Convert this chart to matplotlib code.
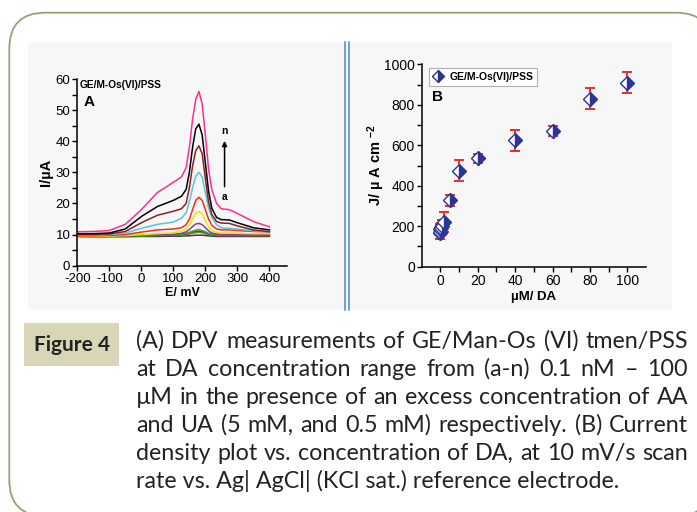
import matplotlib
matplotlib.use('Agg')
import matplotlib.pyplot as plt
from matplotlib.patches import FancyBboxPatch, Rectangle

plt.rcParams['font.family'] = ['Liberation Sans', 'DejaVu Sans']
plt.rcParams['mathtext.fontset'] = 'custom'
plt.rcParams['mathtext.rm'] = 'Liberation Sans'
plt.rcParams['mathtext.bf'] = 'Liberation Sans:bold'
plt.rcParams['mathtext.default'] = 'bf'
plt.rcParams['axes.unicode_minus'] = False

W, H = 697, 512

# ---- panel A: DPV curves (a..n), potential in mV, current in uA
E_mV = [-200, -150, -100, -50, 0, 50, 100, 125, 140, 150, 160, 170, 180,
        190, 200, 210, 220, 235, 250, 275, 300, 350, 400]
curve_a = [9.3, 9.3, 9.3, 9.3, 9.4, 9.4, 9.5, 9.5, 9.6, 9.6, 9.7, 9.8, 9.8, 9.8, 9.7, 9.6, 9.5, 9.4, 9.4, 9.4, 9.4, 9.4, 9.4]
curve_b = [9.4, 9.4, 9.4, 9.5, 9.6, 9.7, 9.8, 9.9, 10.0, 10.2, 10.4, 10.6, 10.7, 10.6, 10.3, 10.0, 9.8, 9.7, 9.7, 9.7, 9.7, 9.7, 9.7]
curve_c = [9.4, 9.4, 9.5, 9.5, 9.6, 9.7, 9.8, 10.0, 10.2, 10.5, 10.8, 11.0, 11.1, 11.0, 10.6, 10.2, 9.9, 9.8, 9.8, 9.8, 9.8, 9.8, 9.8]
curve_d = [9.5, 9.5, 9.5, 9.6, 9.7, 9.8, 9.9, 10.1, 10.4, 10.7, 11.1, 11.4, 11.6, 11.3, 10.9, 10.4, 10.1, 9.9, 9.9, 9.9, 9.9, 9.9, 9.9]
curve_e = [9.5, 9.5, 9.6, 9.7, 9.8, 9.9, 10.1, 10.4, 10.9, 11.6, 12.6, 13.4, 13.6, 13.2, 12.2, 11.2, 10.5, 10.2, 10.1, 10.1, 10.0, 10.0, 10.0]
curve_f = [9.3, 9.4, 9.5, 9.7, 10.0, 10.3, 10.6, 11.0, 11.8, 13.0, 15.0, 16.8, 17.4, 16.6, 14.5, 12.5, 11.3, 10.7, 10.5, 10.5, 10.4, 10.3, 10.3]
curve_g = [9.6, 9.6, 9.7, 10.0, 10.8, 11.5, 11.8, 12.2, 13.2, 15.0, 18.0, 21.0, 22.0, 21.0, 18.0, 15.0, 13.0, 11.8, 11.5, 11.5, 11.3, 11.0, 10.9]
curve_h = [9.8, 9.8, 10.0, 10.5, 12.0, 13.3, 14.0, 15.2, 17.0, 20.5, 25.0, 28.8, 30.0, 28.5, 23.5, 18.5, 15.5, 13.2, 12.2, 12.0, 11.8, 11.2, 10.9]
curve_i = [10.0, 10.0, 10.2, 11.0, 13.8, 16.2, 17.5, 18.3, 20.0, 25.0, 32.0, 37.0, 38.5, 36.0, 28.0, 20.5, 16.5, 14.2, 13.7, 13.6, 12.8, 11.5, 10.9]
curve_j = [10.3, 10.3, 10.5, 11.8, 15.8, 19.0, 21.0, 22.3, 24.5, 30.0, 38.0, 44.0, 45.5, 42.0, 33.0, 24.0, 18.5, 15.5, 14.8, 14.7, 13.8, 12.2, 11.5]
curve_k = [10.9, 11.0, 11.3, 13.3, 18.0, 23.5, 26.8, 28.5, 31.5, 38.0, 47.0, 53.5, 56.0, 52.0, 42.0, 31.0, 24.5, 20.0, 18.3, 18.0, 16.8, 14.2, 12.5]
curves = [curve_a, curve_b, curve_c, curve_d, curve_e, curve_f, curve_g,
          curve_h, curve_i, curve_j, curve_k]
curve_colors = ['#3a3a3a', '#a0783c', '#1f6f2a', '#3aa33a', '#8b3a9e', '#f2e200',
                '#ff2a1a', '#52c8dc', '#8e1f1f', '#000000', '#ff2d8f']

# ---- panel B: current density vs DA concentration
conc_uM = [0.0001, 0.001, 0.01, 0.1, 0.5, 1, 2, 5, 10, 20, 40, 60, 80, 100]
J_vals = [165, 172, 185, 195, 190, 200, 220, 328, 475, 535, 625, 672, 830, 910]
J_err = [30, 35, 25, 20, 25, 30, 50, 28, 52, 22, 52, 25, 53, 50]

caption_lines = [
    '(A) DPV measurements of GE/Man-Os (VI) tmen/PSS',
    'at DA concentration range from (a-n) 0.1 nM \u2013 100',
    '\u00b5M in the presence of an excess concentration of AA',
    'and UA (5 mM, and 0.5 mM) respectively. (B) Current',
    'density plot vs. concentration of DA, at 10 mV/s scan',
    'rate vs. Ag| AgCl| (KCl sat.) reference electrode.',
]

fig = plt.figure(figsize=(W / 100, H / 100), dpi=100)
fig.patch.set_facecolor('white')

# overlay in pixel units for frame, panel and caption
bg = fig.add_axes([0, 0, 1, 1])
bg.set_xlim(0, W)
bg.set_ylim(H, 0)
bg.axis('off')
bg.add_patch(FancyBboxPatch((9.3 + 36, 12.7 + 36), 712 - 9.3 - 72, 516 - 12.7 - 72,
                            boxstyle='round,pad=36', fc='white', ec='#a39b73', lw=1.3))
bg.add_patch(Rectangle((28, 42), 644, 268, fc='#f7f7f7', ec='none'))
for xl in [344.5, 348.5]:
    bg.plot([xl, xl], [42, 310], color='#4a86d6', lw=1.1)
bg.add_patch(Rectangle((24, 323), 95, 43, fc='#d9d6b8', ec='none'))
bg.text(71.5, 351, 'Figure 4', family='Lato', weight='bold', size=15,
        color='#222222', ha='center', va='baseline')


def pix_axes(left, top, right, bottom):
    return fig.add_axes([left / W, 1 - bottom / H, (right - left) / W, (bottom - top) / H])


def style(ax, lsize):
    for s in ['top', 'right']:
        ax.spines[s].set_visible(False)
    for s in ['left', 'bottom']:
        ax.spines[s].set_linewidth(1.1)
    ax.set_facecolor('none')
    ax.tick_params(which='both', direction='out', width=1.0, labelsize=lsize, pad=1.5)
    ax.tick_params(which='major', length=3.5)
    ax.tick_params(which='minor', length=3.5)


# ---- panel A
axA = pix_axes(77.3, 79, 287, 265.7)
style(axA, 9.5)
for ys, c in zip(curves, curve_colors):
    axA.plot(E_mV, ys, color=c, lw=1.1)
axA.set_xlim(-200, 455)
axA.set_ylim(0, 60)
axA.set_xticks([-200, -100, 0, 100, 200, 300, 400])
axA.set_yticks([0, 10, 20, 30, 40, 50, 60])
axA.set_yticks([5, 15, 25, 35, 45, 55], minor=True)
axA.set_xlabel('E/ mV', weight='bold', size=9, labelpad=2)
axA.set_ylabel('I/\u00b5A', weight='bold', size=10.5, labelpad=2)
axA.text(-191.5, 58.1, 'GE/M-Os(VI)/PSS', weight='bold', size=7.3, va='center')
axA.text(-181, 52.7, 'A', weight='bold', size=11, va='center')
axA.annotate('', xy=(260, 41), xytext=(260, 24.5),
             arrowprops=dict(arrowstyle='-|>', color='k', lw=1.1, mutation_scale=7))
axA.text(260, 43.2, 'n', weight='bold', size=7.5, ha='center', va='center')
axA.text(260, 22, 'a', weight='bold', size=7.5, ha='center', va='center')

# ---- panel B
axB = pix_axes(421.7, 64.3, 646, 266.7)
style(axB, 10)
axB.errorbar(conc_uM, J_vals, yerr=J_err, fmt='none', ecolor='#ee2a2a',
             elinewidth=1.4, capsize=3.5, capthick=1.4, zorder=2)
axB.plot(conc_uM, J_vals, ls='none', marker='D', ms=7, fillstyle='right',
         mfc='#2b3594', mfcalt='white', mec='#2b3594', mew=1.0, zorder=3,
         label='GE/M-Os(VI)/PSS')
axB.set_xlim(-10, 110)
axB.set_ylim(0, 1000)
axB.set_xticks([0, 20, 40, 60, 80, 100])
axB.set_xticks([10, 30, 50, 70, 90], minor=True)
axB.set_yticks([0, 200, 400, 600, 800, 1000])
axB.set_yticks([100, 300, 500, 700, 900], minor=True)
axB.set_xlabel('\u00b5M/ DA', weight='bold', size=9.5, labelpad=2.5)
axB.set_ylabel('J/ \u00b5 A cm $^{-2}$', weight='bold', size=10.5)
axB.yaxis.set_label_coords(-0.155, 0.5)
axB.text(0.045, 0.837, 'B', transform=axB.transAxes, weight='bold', size=11, va='center')
leg = axB.legend(loc='upper left', bbox_to_anchor=(0.01, 1.005), fancybox=False,
                 prop={'weight': 'bold', 'size': 7.5}, borderpad=0.35,
                 handlelength=1.0, handletextpad=0.6, markerscale=0.85, framealpha=1)
leg.get_frame().set_edgecolor('#b0b0b0')
leg.get_frame().set_linewidth(0.8)

# ---- caption, justified lines
fig.canvas.draw()
renderer = fig.canvas.get_renderer()
x0, x1 = 136, 688
base_y = [348, 376, 404, 432, 460, 488]


def measure(s, size):
    t = bg.text(0, 0, s, family='Lato', size=size)
    w = t.get_window_extent(renderer).width
    t.remove()
    return w


# pick a size so the widest line fits the column
cap_size = 15.0
widest = max(measure(l, cap_size) for l in caption_lines)
cap_size = min(17.0, cap_size * (x1 - x0 - 4) / widest)
cap_kw = dict(family='Lato', size=cap_size, color='#222222', va='baseline', ha='left')
for k, (line, yy) in enumerate(zip(caption_lines, base_y)):
    if k == len(caption_lines) - 1:
        bg.text(x0, yy, line, **cap_kw)
        continue
    words = line.split(' ')
    widths = [measure(w, cap_size) for w in words]
    gap = (x1 - x0 - sum(widths)) / (len(words) - 1)
    xx = x0
    for w, wd in zip(words, widths):
        bg.text(xx, yy, w, **cap_kw)
        xx += wd + gap

fig.savefig('out.png', dpi=100)
